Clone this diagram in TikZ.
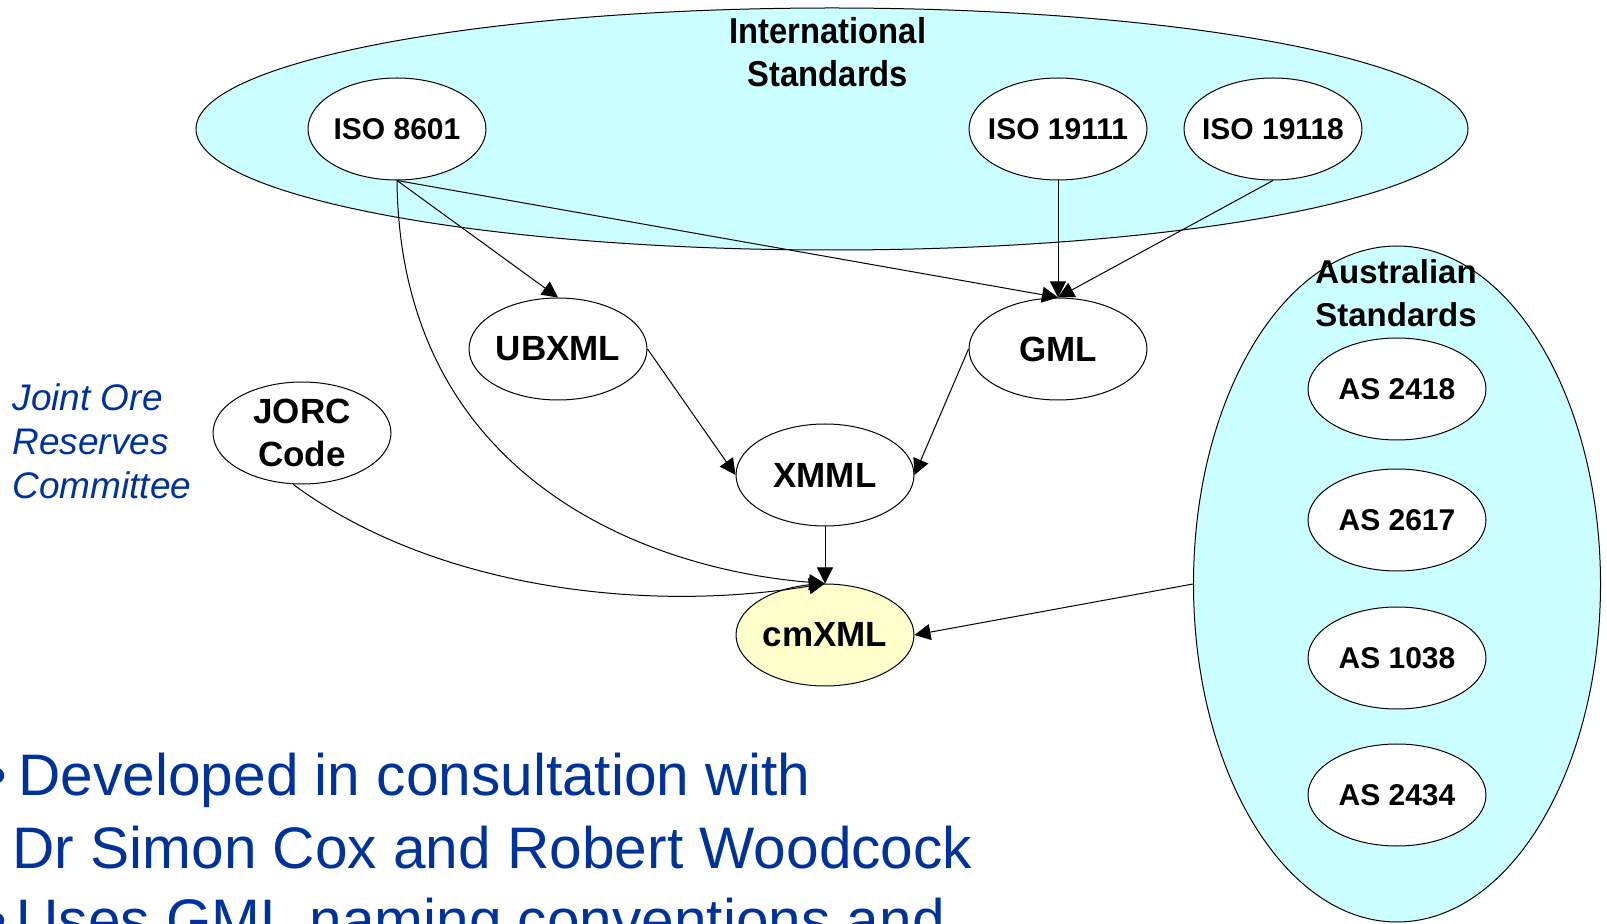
\documentclass[tikz,border=0pt]{standalone}
\usepackage{fontspec}
\setmainfont{Liberation Sans}
\newfontfamily\narrowfont{Liberation Sans}[FakeStretch=0.91]
\usepackage{xcolor}
\usetikzlibrary{shapes.geometric,positioning,arrows.meta}
\definecolor{stdcyan}{RGB}{204,255,255}
\definecolor{cmyellow}{RGB}{255,255,204}
\definecolor{noteblue}{RGB}{0,51,153}

\begin{document}
\begin{tikzpicture}[
    x=0.5pt, y=-0.5pt,
    ->,
    >={Triangle[length=8pt,width=8pt]},
    line width=0.5pt,
    group/.style={ellipse, draw, fill=stdcyan, inner sep=0pt},
    grouptitle/.style={align=center, font=\fontsize{16.5}{21.5}\selectfont\bfseries},
    std/.style={ellipse, draw, fill=white, minimum width=89pt, minimum height=51pt,
        inner xsep=-8pt, inner ysep=0pt, font=\fontsize{15}{18}\selectfont\bfseries},
    fmt/.style={std, font=\fontsize{17.5}{21.5}\selectfont\bfseries, align=center},
    note/.style={text=noteblue, inner sep=0pt},
    bullet/.style={note, anchor=base west, font=\fontsize{29.3}{36}\selectfont}
]
    \useasboundingbox (0,0) rectangle (1607,924);

    % standards bodies
    \node[group, minimum width=636pt, minimum height=121pt] (intl) at (832,129) {};
    \node[grouptitle, font=\narrowfont\fontsize{18}{21.5}\selectfont\bfseries]
        (intltitle) at (828,52) {International\\Standards};
    \node[group, minimum width=203.5pt, minimum height=338pt] (aus) at (1397,584) {};
    \node[grouptitle] (austitle) at (1396,293) {Australian\\Standards};

    \node[std] (iso8601) at (397,129) {ISO 8601};
    \node[std] (iso19111) at (1058,129) {ISO 19111};
    \node[std, right=18pt of iso19111] (iso19118) {ISO 19118};

    \node[std] (as2418) at (1397,389) {AS 2418};
    \node[std] (as2617) at (1397,520) {AS 2617};
    \node[std] (as1038) at (1397,658) {AS 1038};
    \node[std] (as2434) at (1397,795) {AS 2434};

    % markup languages
    \node[fmt] (ubxml) at (558,349) {UBXML};
    \node[fmt] (gml) at (1058,349) {GML};
    \node[fmt] (xmml) at (825,475) {XMML};
    \node[fmt] (jorc) at (302,433) {JORC\\Code};
    \node[fmt, fill=cmyellow] (cmxml) at (825,635) {cmXML};

    \node[note, anchor=west, align=left, font=\fontsize{18.5}{22}\selectfont\itshape]
        (jorctext) at (12,441) {Joint Ore\\Reserves\\Committee};

    % bullet text
    \node[bullet, anchor=base] (dot1) at (-3,796) {•};
    \node[bullet] (line1) at (18,796) {Developed in consultation with};
    \node[bullet] (line2) at (12,868) {Dr Simon Cox and Robert Woodcock};
    \node[bullet, anchor=base] (dot2) at (-3,940) {•};
    \node[bullet] (line3) at (16,940) {Uses GML naming conventions and};

    \draw (iso8601.south) -- (ubxml.north);
    \draw (iso8601.south) -- (gml.north);
    \draw (iso19111.south) -- (gml.north);
    \draw (iso19118.south) -- (gml.north);
    \draw (iso8601.south) .. controls +(3,300) and +(-175,-14) .. (cmxml.north);

    \draw (ubxml.east) -- (xmml.west);
    \draw (gml.west) -- (xmml.east);
    \draw (xmml.south) -- (cmxml.north);
    \draw (jorc.-100) .. controls +(140,104) and +(-180,30) .. (cmxml.north);
    \draw (aus.west) -- (cmxml.east);
\end{tikzpicture}
\end{document}
